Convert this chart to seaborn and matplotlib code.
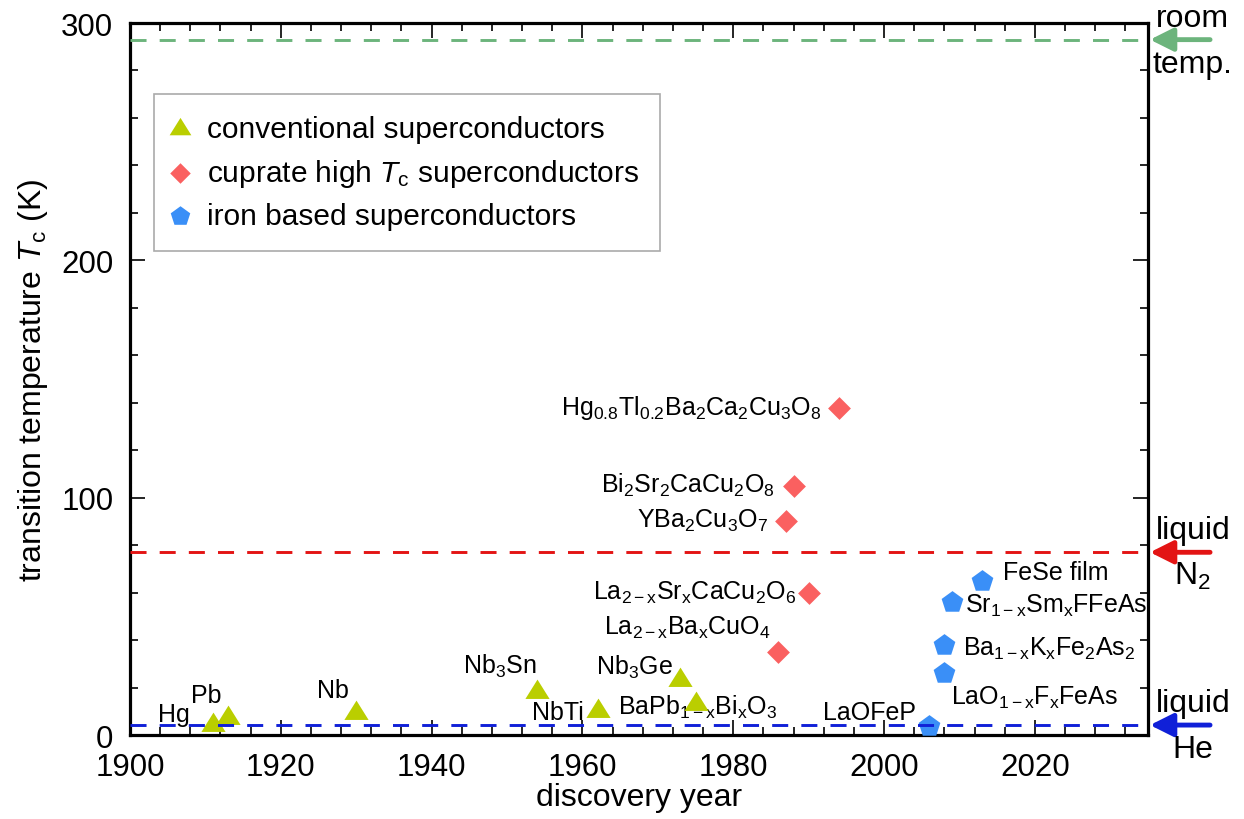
import matplotlib
matplotlib.use("Agg")
import matplotlib.pyplot as plt
from matplotlib.path import Path
from matplotlib.ticker import MultipleLocator
import seaborn as sns

# ---- data: discovery year and critical temperature (K) ----
conv_names = ["Hg", "Pb", "Nb", "Nb$_3$Sn", "NbTi", "Nb$_3$Ge",
              r"BaPb$_{1-\mathrm{x}}$Bi$_\mathrm{x}$O$_3$"]
conv_year = [1911, 1913, 1930, 1954, 1962, 1973, 1975]
conv_tc = [4.2, 7.2, 9.3, 18.3, 10, 23.2, 13]

cup_names = [r"La$_{2-\mathrm{x}}$Ba$_\mathrm{x}$CuO$_4$",
             "YBa$_2$Cu$_3$O$_7$",
             "Bi$_2$Sr$_2$CaCu$_2$O$_8$",
             r"La$_{2-\mathrm{x}}$Sr$_\mathrm{x}$CaCu$_2$O$_6$",
             "Hg$_{0.8}$Tl$_{0.2}$Ba$_2$Ca$_2$Cu$_3$O$_8$"]
cup_year = [1986, 1987, 1988, 1990, 1994]
cup_tc = [35, 90, 105, 60, 138]

iron_names = ["LaOFeP",
              r"LaO$_{1-\mathrm{x}}$F$_\mathrm{x}$FeAs",
              r"Ba$_{1-\mathrm{x}}$K$_\mathrm{x}$Fe$_2$As$_2$",
              r"Sr$_{1-\mathrm{x}}$Sm$_\mathrm{x}$FFeAs",
              "FeSe film"]
iron_year = [2006, 2008, 2008, 2009, 2013]
iron_tc = [4, 26, 38, 56, 65]

ref_temps = [293, 77, 4.2]
ref_top = ["room", "liquid", "liquid"]
ref_bottom = ["temp.", "N$_2$", "He"]

# ---- label placement (offset in points from marker, alignment) ----
conv_off = [(-16.6, 2.9, "right"), (-5, 11.5, "right"), (-5, 11.5, "right"),
            (-0.7, 13.4, "right"), (-10, -5.5, "right"), (-5.8, 4.3, "right"),
            (-56, -7.2, "left")]
cup_off = [(-6, 12.9, "right"), (-12.9, -4, "right"), (-13.2, -4.5, "right"),
           (-9, -4.6, "right"), (-12.7, -4.7, "right")]
iron_off = [(-9.6, 4.7, "right"), (4.8, -22, "left"), (13.4, -7.3, "left"),
            (9.4, -7.1, "left"), (15, 1.3, "left")]

sns.set_theme(style="ticks")
plt.rcParams.update({
    "font.family": ["Liberation Sans", "DejaVu Sans"],
    "mathtext.fontset": "custom",
    "mathtext.rm": "Liberation Sans",
    "mathtext.it": "Liberation Sans:italic",
    "mathtext.bf": "Liberation Sans:bold",
    "axes.edgecolor": "black",
    "text.color": "black",
    "axes.labelcolor": "black",
    "xtick.color": "black",
    "ytick.color": "black",
})

c_conv = "#bace00"
c_cup = "#fa6060"
c_iron = "#3a8ff7"
line_cols = ["#6cb47c", "#e31414", "#1020d8"]

# triangle with its centroid at the origin, a bit wider than tall
tri = Path([(-1, -0.533), (1, -0.533), (0, 1.067), (-1, -0.533)],
           [Path.MOVETO, Path.LINETO, Path.LINETO, Path.CLOSEPOLY])

fig = plt.figure(figsize=(12.44, 8.2), dpi=100)
ax = fig.add_axes([0.1045, 0.1024, 0.8183, 0.8683])

sns.scatterplot(x=conv_year, y=conv_tc, marker=tri, s=345, color=c_conv,
                linewidth=0, label="conventional superconductors", ax=ax, zorder=3)
sns.scatterplot(x=cup_year, y=cup_tc, marker="D", s=135, color=c_cup,
                linewidth=0, label=r"cuprate high $T_\mathrm{c}$ superconductors",
                ax=ax, zorder=3)
sns.scatterplot(x=iron_year, y=iron_tc, marker="p", s=270, color=c_iron,
                linewidth=0, label="iron based superconductors", ax=ax, zorder=3)

for names, xs, ys, offs in [(conv_names, conv_year, conv_tc, conv_off),
                            (cup_names, cup_year, cup_tc, cup_off),
                            (iron_names, iron_year, iron_tc, iron_off)]:
    for n, x, y, (dx, dy, ha) in zip(names, xs, ys, offs):
        ax.annotate(n, xy=(x, y), xytext=(dx, dy), textcoords="offset points",
                    ha=ha, va="baseline", fontsize=18, zorder=2)

for y, top, bot, c in zip(ref_temps, ref_top, ref_bottom, line_cols):
    ax.axhline(y, color=c, lw=2.1, ls=(0, (5.5, 4.5)), zorder=4)
    ax.annotate("", xy=(1.002, y), xycoords=("axes fraction", "data"),
                xytext=(1.061, y), textcoords=("axes fraction", "data"),
                arrowprops=dict(arrowstyle="-|>,head_length=0.7,head_width=0.35",
                                color=c, lw=3.5, mutation_scale=20,
                                shrinkA=0, shrinkB=0),
                annotation_clip=False)
    ax.annotate(top, xy=(1.044, y), xycoords=("axes fraction", "data"),
                xytext=(0, 10), textcoords="offset points", ha="center",
                va="baseline", fontsize=23, annotation_clip=False)
    ax.annotate(bot, xy=(1.044, y), xycoords=("axes fraction", "data"),
                xytext=(0, -23), textcoords="offset points", ha="center",
                va="baseline", fontsize=23, annotation_clip=False)

ax.set_xlim(1900, 2035)
ax.set_ylim(0, 300)
ax.set_xticks(range(1900, 2021, 20))
ax.set_yticks([0, 100, 200, 300])
ax.xaxis.set_minor_locator(MultipleLocator(4))
ax.yaxis.set_minor_locator(MultipleLocator(20))
ax.tick_params(which="both", direction="in", top=True, right=True, width=1.2,
               labelsize=22.5)
ax.tick_params(which="major", length=11)
ax.tick_params(which="minor", length=6)
ax.tick_params(axis="y", which="major", pad=12)
ax.tick_params(axis="x", which="major", pad=12.5)
for sp in ax.spines.values():
    sp.set_linewidth(2.3)
    sp.set_visible(True)

ax.set_xlabel("discovery year", fontsize=23, labelpad=0)
ax.set_ylabel(r"transition temperature $T_\mathrm{c}$ (K)", fontsize=23, labelpad=8)

leg = ax.legend(loc="upper left", bbox_to_anchor=(0.0236, 0.900),
                borderaxespad=0, fontsize=21.5, frameon=True, fancybox=False,
                framealpha=1, edgecolor="#aaaaaa", borderpad=0.7,
                handlelength=0.35, handletextpad=0.72, labelspacing=0.45,
                markerscale=0.9)
leg.get_frame().set_linewidth(1.2)

fig.savefig("out.png", dpi=100)
